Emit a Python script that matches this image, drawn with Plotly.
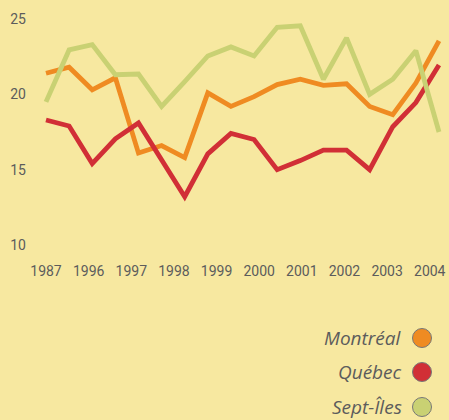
import plotly.graph_objects as go

# ---- data ----
tick_labels = ["1987", "1996", "1997", "1998", "1999", "2000", "2001", "2002", "2003", "2004"]
montreal = [21.4, 21.8, 20.3, 21.1, 16.1, 16.6, 15.8, 20.1, 19.2, 19.85, 20.65, 21.0, 20.6, 20.7, 19.2, 18.65, 20.75, 23.55]
quebec = [18.3, 17.9, 15.4, 17.05, 18.1, 15.65, 13.2, 16.05, 17.4, 17.0, 15.0, 15.6, 16.3, 16.3, 15.0, 17.85, 19.45, 21.95]
septiles = [19.5, 22.95, 23.3, 21.3, 21.35, 19.2, 20.85, 22.55, 23.15, 22.55, 24.45, 24.55, 21.0, 23.75, 20.0, 21.0, 22.9, 17.5]
series_names = ["Montréal", "Québec", "Sept-Îles"]
series_values = [montreal, quebec, septiles]
y_ticks = [10, 15, 20, 25]

# ---- style ----
colors = ["#ef8b22", "#d12f36", "#c9d173"]
bg = "#f7e8a0"
txt = "#5c5c5c"
W, H = 449, 420
L, R, T, B = 27, 0, 10, 163
pw, ph = W - L - R, H - T - B

idx = list(range(len(montreal)))
n_lab = len(tick_labels)
x_left = 46 - L
tick_pos = [i * 16.6 / (n_lab - 1) for i in range(n_lab)]
px_per = 393 / 17

fig = go.Figure()
for name, vals, c in zip(series_names, series_values, colors):
    fig.add_trace(go.Scatter(x=idx, y=vals, mode="lines", name=name,
                             line=dict(color=c, width=4.8), showlegend=False,
                             hoverinfo="skip"))

def px2paper(x, y):
    return (x - L) / pw, (H - B - y) / ph

leg_y = [338, 372, 407]
for name, c, yy in zip(series_names, colors, leg_y):
    xp, yp = px2paper(404, yy)
    fig.add_annotation(x=xp, y=yp, xref="paper", yref="paper", text=name,
                       showarrow=False, xanchor="right", yanchor="middle",
                       font=dict(family="Open Sans", size=19, color=txt, style="italic"))
    cx, cy = px2paper(422, yy)
    fig.add_shape(type="circle", xref="paper", yref="paper",
                  xsizemode="pixel", ysizemode="pixel", xanchor=cx, yanchor=cy,
                  x0=-9.5, x1=9.5, y0=-9.5, y1=9.5,
                  fillcolor=c, line=dict(color="#777777", width=1))

fig.update_layout(
    width=W, height=H, margin=dict(l=L, r=R, t=T, b=B),
    paper_bgcolor=bg, plot_bgcolor=bg,
    font=dict(family="Roboto", size=14, color=txt),
    xaxis=dict(range=[-x_left / px_per, 17 + (W - 439) / px_per], tickvals=tick_pos,
               ticktext=tick_labels, showgrid=False, zeroline=False, showline=False,
               ticks="", ticklabelstandoff=4,
               tickfont=dict(family="Roboto", size=14, color=txt)),
    yaxis=dict(range=[9.2, 25.6], tickvals=y_ticks, showgrid=False, zeroline=False,
               showline=False, ticks="", tickfont=dict(family="Roboto", size=14, color=txt)),
)

fig.write_html("out.html", config={"displayModeBar": False},
               post_script="document.body.style.margin='0';document.body.style.background='%s';" % bg)
